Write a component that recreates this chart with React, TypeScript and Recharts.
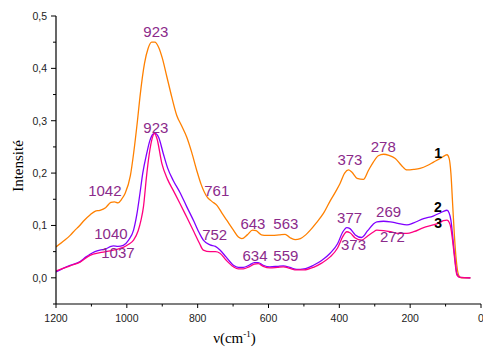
import { LineChart, Line, XAxis, YAxis, ReferenceDot } from 'recharts'

// spectrum 1 (orange)
const wn1 = [1200, 1175, 1160, 1145, 1137, 1120, 1104, 1090, 1076, 1060, 1045, 1035, 1025, 1015, 1005, 990, 981, 970, 963, 950, 940, 930, 921, 910, 900, 887, 873, 859, 845, 831, 817, 803, 790, 774, 760, 745, 730, 718, 700, 685, 675, 660, 645, 635, 620, 605, 590, 570, 553, 540, 525, 510, 495, 482, 465, 445, 425, 410, 398, 385, 374, 365, 350, 332, 318, 304, 290, 275, 260, 242, 225, 209, 190, 172, 150, 134, 115, 101, 96, 90, 85, 80, 75, 70, 63, 55, 30]
const int1 = [0.059, 0.072, 0.081, 0.092, 0.097, 0.110, 0.120, 0.127, 0.129, 0.134, 0.144, 0.145, 0.143, 0.150, 0.161, 0.195, 0.237, 0.300, 0.345, 0.410, 0.438, 0.450, 0.450, 0.440, 0.420, 0.384, 0.345, 0.310, 0.290, 0.269, 0.240, 0.206, 0.178, 0.155, 0.146, 0.138, 0.122, 0.110, 0.092, 0.078, 0.075, 0.082, 0.091, 0.090, 0.082, 0.081, 0.081, 0.082, 0.083, 0.077, 0.073, 0.075, 0.082, 0.091, 0.105, 0.123, 0.148, 0.165, 0.180, 0.200, 0.206, 0.202, 0.190, 0.188, 0.205, 0.221, 0.233, 0.236, 0.234, 0.228, 0.215, 0.206, 0.207, 0.209, 0.215, 0.221, 0.228, 0.234, 0.235, 0.228, 0.200, 0.140, 0.080, 0.035, 0.005, 0, 0]

// spectrum 2 (violet)
const wn2 = [1200, 1180, 1160, 1132, 1115, 1104, 1090, 1076, 1060, 1045, 1038, 1025, 1010, 995, 981, 972, 963, 955, 944, 935, 925, 920, 910, 897, 885, 869, 850, 831, 810, 795, 784, 765, 750, 737, 720, 699, 685, 671, 655, 640, 629, 615, 596, 575, 558, 540, 520, 500, 473, 450, 426, 405, 390, 379, 370, 355, 337, 320, 305, 294, 275, 256, 235, 209, 190, 162, 135, 115, 106, 96, 90, 85, 80, 75, 68, 60, 30]
const int2 = [0.011, 0.018, 0.024, 0.031, 0.040, 0.045, 0.050, 0.053, 0.055, 0.060, 0.061, 0.060, 0.062, 0.072, 0.091, 0.120, 0.161, 0.200, 0.237, 0.262, 0.275, 0.276, 0.268, 0.237, 0.210, 0.186, 0.163, 0.136, 0.107, 0.085, 0.072, 0.063, 0.060, 0.053, 0.040, 0.024, 0.020, 0.020, 0.024, 0.029, 0.029, 0.024, 0.021, 0.022, 0.023, 0.020, 0.016, 0.017, 0.024, 0.033, 0.047, 0.065, 0.088, 0.096, 0.094, 0.082, 0.077, 0.090, 0.102, 0.107, 0.108, 0.107, 0.104, 0.101, 0.105, 0.113, 0.118, 0.124, 0.127, 0.129, 0.124, 0.110, 0.080, 0.045, 0.008, 0.001, 0]

// spectrum 3 (magenta)
const wn3 = [1200, 1180, 1160, 1132, 1104, 1076, 1060, 1038, 1025, 1010, 995, 981, 968, 960, 953, 945, 939, 930, 922, 915, 901, 885, 869, 850, 831, 810, 795, 784, 765, 750, 737, 720, 699, 685, 671, 655, 640, 629, 615, 596, 575, 558, 540, 520, 500, 473, 450, 426, 405, 390, 379, 370, 355, 337, 320, 305, 294, 275, 256, 235, 209, 190, 162, 135, 115, 106, 96, 90, 85, 80, 75, 68, 60, 30]
const int3 = [0.013, 0.018, 0.023, 0.030, 0.043, 0.048, 0.050, 0.053, 0.055, 0.058, 0.064, 0.072, 0.090, 0.110, 0.136, 0.190, 0.225, 0.262, 0.276, 0.266, 0.218, 0.188, 0.167, 0.142, 0.116, 0.087, 0.066, 0.053, 0.050, 0.050, 0.047, 0.034, 0.021, 0.017, 0.017, 0.021, 0.026, 0.027, 0.022, 0.019, 0.020, 0.021, 0.018, 0.015, 0.015, 0.020, 0.028, 0.040, 0.057, 0.079, 0.088, 0.086, 0.076, 0.072, 0.080, 0.087, 0.091, 0.090, 0.088, 0.085, 0.085, 0.088, 0.096, 0.101, 0.106, 0.109, 0.110, 0.106, 0.095, 0.070, 0.040, 0.005, 0.001, 0]

const xTicks = [1200, 1100, 1000, 900, 800, 700, 600, 500, 400, 300, 200, 100, 0]
const yTicks = [-0.05, 0, 0.05, 0.1, 0.15, 0.2, 0.25, 0.3, 0.35, 0.4, 0.45, 0.5]

// peak labels
const peakText = ['923', '923', '1042', '761', '1040', '1037', '752', '643', '563', '634', '559', '373', '278', '377', '269', '373', '272']
const peakX = [918, 918, 1062, 746, 1045, 1025, 752, 644, 551, 638, 551, 370, 276, 371, 261, 360, 250]
const peakY = [0.471, 0.287, 0.166, 0.166, 0.084, 0.048, 0.082, 0.104, 0.104, 0.043, 0.043, 0.226, 0.251, 0.116, 0.126, 0.063, 0.078]

const curveNames = ['1', '2', '3']
const curveX = [121, 122, 121]
const curveY = [0.2375, 0.1356, 0.104]

const zip = (xs: number[], ys: number[]) => xs.map((x, i) => ({ x, y: ys[i] }))
const series = [
  { key: '1', data: zip(wn1, int1), color: '#ff8000' },
  { key: '2', data: zip(wn2, int2), color: '#8000ff' },
  { key: '3', data: zip(wn3, int3), color: '#ff0080' },
]

const sans = '"Liberation Sans", Arial, sans-serif'
const serif = '"Liberation Serif", "Times New Roman", serif'

function YTick(props: any) {
  const { x, y, payload } = props
  const v = payload.value
  const major = v >= 0 && Math.abs(v * 10 - Math.round(v * 10)) < 1e-6
  return (
    <g>
      <line x1={x - (major ? 5 : 3)} x2={x} y1={y} y2={y} stroke="#000" strokeWidth={1} />
      {major && (
        <text x={x - 9} y={y} textAnchor="end" dominantBaseline="central" fontSize={10.5} fontFamily={sans} fill="#222">
          {v.toFixed(1).replace('.', ',')}
        </text>
      )}
    </g>
  )
}

function XTick(props: any) {
  const { x, y, payload } = props
  const v = payload.value
  const major = v % 200 === 0
  return (
    <g>
      <line x1={x} x2={x} y1={y} y2={y + (major ? 4 : 2.5)} stroke="#000" strokeWidth={1} />
      {major && (
        <text x={x} y={y + 14} textAnchor="middle" dominantBaseline="central" fontSize={10.5} fontFamily={sans} fill="#222">
          {v}
        </text>
      )}
    </g>
  )
}

export default function App() {
  return (
    <div style={{ position: 'absolute', left: 0, top: 0, width: 483, height: 351, background: '#fff', overflow: 'hidden' }}>
      <LineChart width={483} height={351} margin={{ top: 16, right: 2, bottom: 17, left: 0 }}>
        <XAxis
          type="number"
          dataKey="x"
          domain={[0, 1200]}
          reversed
          ticks={xTicks}
          interval={0}
          tickSize={0}
          tickMargin={0}
          tick={(p: any) => <XTick {...p} />}
          height={30}
          axisLine={{ stroke: '#000', strokeWidth: 1.2 }}
          allowDataOverflow
          label={{
            content: (p: any) => {
              const vb = p.viewBox
              return (
                <text x={vb.x + vb.width / 2 - 34} y={343} textAnchor="middle" fontSize={15} fontFamily={serif} fill="#000">
                  ν(cm<tspan dy={-6} fontSize={9}>-1</tspan><tspan dy={6}>)</tspan>
                </text>
              )
            },
          }}
        />
        <YAxis
          type="number"
          dataKey="y"
          domain={[-0.05, 0.5]}
          ticks={yTicks}
          interval={0}
          tickSize={0}
          tickMargin={0}
          tick={(p: any) => <YTick {...p} />}
          width={56}
          axisLine={{ stroke: '#000', strokeWidth: 1.2 }}
          allowDataOverflow
          label={{
            content: (p: any) => {
              const vb = p.viewBox
              const cy = vb.y + vb.height / 2 + 6
              return (
                <text x={18} y={cy} transform={`rotate(-90, 18, ${cy})`} textAnchor="middle" dominantBaseline="central" fontSize={15} fontFamily={serif} fill="#000">
                  Intensité
                </text>
              )
            },
          }}
        />
        {series.map(s => (
          <Line
            key={s.key}
            data={s.data}
            dataKey="y"
            type="monotone"
            stroke={s.color}
            strokeWidth={1.3}
            dot={false}
            activeDot={false}
            isAnimationActive={false}
          />
        ))}
        {peakText.map((t, i) => (
          <ReferenceDot
            key={'p' + i}
            x={peakX[i]}
            y={peakY[i]}
            r={0}
            shape={(p: any) => (
              <text x={p.cx} y={p.cy} textAnchor="middle" dominantBaseline="central" fontSize={15} fontFamily={sans} fill="#8b2a8b">
                {t}
              </text>
            )}
          />
        ))}
        {curveNames.map((t, i) => (
          <ReferenceDot
            key={'c' + i}
            x={curveX[i]}
            y={curveY[i]}
            r={0}
            shape={(p: any) => (
              <text x={p.cx} y={p.cy} textAnchor="middle" dominantBaseline="central" fontSize={14} fontWeight="bold" fontFamily={sans} fill="#000">
                {t}
              </text>
            )}
          />
        ))}
      </LineChart>
    </div>
  )
}
